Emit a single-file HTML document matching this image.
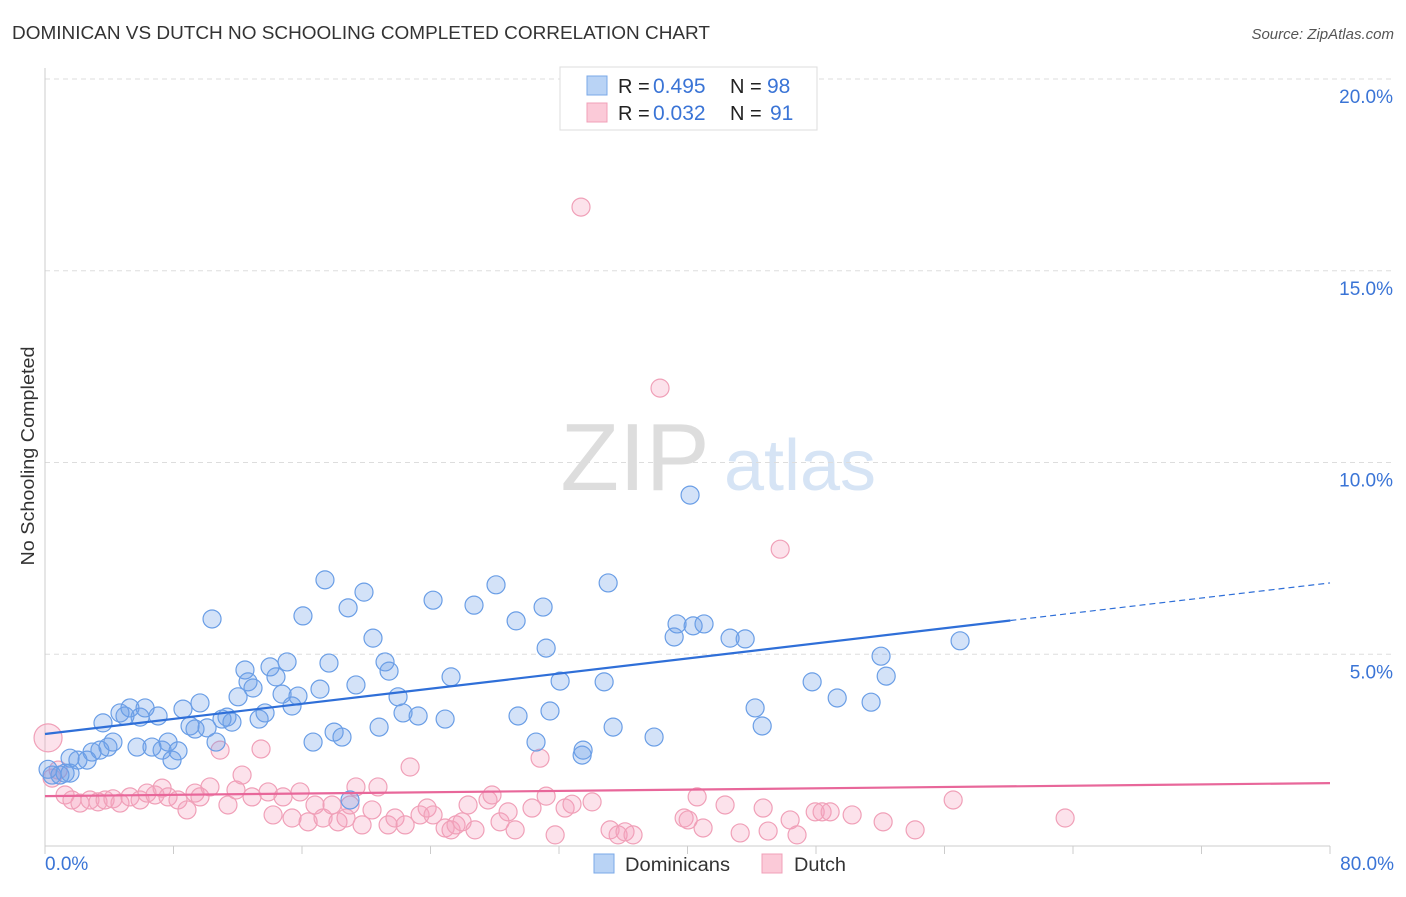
<!DOCTYPE html>
<html><head><meta charset="utf-8"><style>
body{margin:0;background:#fff;font-family:"Liberation Sans",sans-serif;}
svg text{font-family:"Liberation Sans",sans-serif;}
</style></head><body>
<svg id="chart" width="1406" height="892">
<text x="12" y="39" font-size="18" fill="#333" textLength="698" lengthAdjust="spacingAndGlyphs">DOMINICAN VS DUTCH NO SCHOOLING COMPLETED CORRELATION CHART</text>
<text x="1394" y="39" font-size="15" fill="#555" font-style="italic" text-anchor="end">Source: ZipAtlas.com</text>
<text x="34" y="456" font-size="18" fill="#333" text-anchor="middle" textLength="219" lengthAdjust="spacingAndGlyphs" transform="rotate(-90 34 456)">No Schooling Completed</text>
<g><text x="635" y="490" font-size="96" fill="#ddd" font-family="Liberation Serif" text-anchor="middle">ZIP</text><text x="800" y="490" font-size="72" fill="#d6e4f5" text-anchor="middle">atlas</text></g>
<g id="grid"></g><g id="marks"></g>
<g>
<rect x="560" y="67" width="257" height="63" fill="#fff" stroke="#ddd"/>
<rect x="587" y="76" width="20" height="19" fill="#b9d3f5" stroke="#7aa8e8"/>
<rect x="587" y="103" width="20" height="19" fill="#fbcad8" stroke="#f0a0b8"/>
<text x="618" y="93" font-size="20" fill="#222">R =</text>
<text x="653" y="93" font-size="21" fill="#3a74d6">0.495</text>
<text x="730" y="93" font-size="20" fill="#222">N =</text>
<text x="767" y="93" font-size="21" fill="#3a74d6">98</text>
<text x="618" y="120" font-size="20" fill="#222">R =</text>
<text x="653" y="120" font-size="21" fill="#3a74d6">0.032</text>
<text x="730" y="120" font-size="20" fill="#222">N =</text>
<text x="770" y="120" font-size="21" fill="#3a74d6">91</text>
</g>
<g>
<rect x="594" y="854" width="20" height="19" fill="#b9d3f5" stroke="#7aa8e8"/>
<text x="625" y="871" font-size="19" fill="#333" textLength="105" lengthAdjust="spacingAndGlyphs">Dominicans</text>
<rect x="762" y="854" width="20" height="19" fill="#fbcad8" stroke="#f0a0b8"/>
<text x="794" y="871" font-size="19" fill="#333" textLength="52" lengthAdjust="spacingAndGlyphs">Dutch</text>
</g>
</svg>
<script>
const yTicks=[5,10,15,20];
const yTickLabels=["5.0%","10.0%","15.0%","20.0%"];
const xTickLabels=["0.0%","80.0%"];
const blueX=[0.44,0.93,1.25,1.56,2.05,2.62,2.93,3.42,3.61,3.92,4.23,4.67,4.98,5.29,5.73,5.92,6.23,6.66,7.04,7.29,7.66,7.91,8.28,8.59,9.03,9.34,9.65,10.09,10.40,10.65,11.02,11.33,11.64,12.02,12.45,12.64,12.95,13.33,13.70,14.01,14.38,14.76,15.07,15.38,15.75,16.06,16.69,17.12,17.43,17.68,18.0,18.49,18.87,18.99,19.36,19.86,20.42,20.80,21.17,21.42,21.98,22.29,23.23,24.16,24.91,25.28,26.71,28.08,29.33,29.45,30.57,31.01,31.20,31.44,32.07,33.44,33.50,34.81,35.06,35.37,37.92,39.17,39.35,40.16,40.35,41.03,42.65,43.59,44.21,44.65,47.76,49.32,51.43,52.05,52.37,56.97,0.19,1.56];
const blueY=[1.85,1.85,1.90,2.29,2.24,2.24,2.45,2.50,3.21,2.58,2.71,3.47,3.39,3.60,2.58,3.36,3.60,2.58,3.39,2.50,2.71,2.24,2.48,3.57,3.13,3.05,3.73,3.08,5.92,2.71,3.31,3.36,3.23,3.89,4.59,4.28,4.12,3.31,3.47,4.67,4.41,3.96,4.80,3.65,3.91,6.0,2.71,4.09,6.94,4.77,2.97,2.84,6.21,1.20,4.20,6.62,5.42,3.10,4.80,4.56,3.89,3.47,3.39,6.41,3.31,4.41,6.28,6.81,5.87,3.39,2.71,6.23,5.16,3.52,4.30,2.37,2.50,4.28,6.86,3.10,2.84,5.45,5.79,9.15,5.74,5.79,5.42,5.40,3.60,3.13,4.28,3.86,3.75,4.95,4.43,5.35,2.0,1.9];
const pinkX=[0.19,0.44,0.82,1.25,1.68,2.18,2.80,3.30,3.74,4.23,4.67,5.29,5.92,6.35,6.85,7.29,7.66,8.28,8.84,9.34,9.65,10.27,10.90,11.39,11.89,12.27,12.89,13.45,13.89,14.20,14.82,15.38,15.88,16.38,16.81,17.31,17.87,18.24,18.74,18.99,19.36,19.74,20.36,20.73,21.36,21.79,22.42,22.73,23.35,23.79,24.16,24.91,25.28,25.59,25.97,26.34,26.77,27.58,27.83,28.33,28.83,29.27,30.32,30.82,31.20,31.76,32.38,32.81,33.37,34.06,35.18,35.68,36.11,36.61,38.29,39.79,40.04,40.60,40.97,42.34,43.28,44.71,45.02,45.77,46.39,46.82,47.95,48.38,48.88,50.25,52.18,54.17,56.54,63.51];
const pinkY=[2.82,1.77,1.98,1.33,1.20,1.12,1.20,1.15,1.20,1.23,1.12,1.28,1.20,1.38,1.33,1.51,1.28,1.20,0.94,1.38,1.28,1.54,2.50,1.07,1.46,1.85,1.28,2.53,1.41,0.81,1.28,0.73,1.41,0.63,1.07,0.73,1.07,0.63,0.73,1.07,1.54,0.55,0.94,1.54,0.55,0.73,0.55,2.06,0.81,0.99,0.81,0.47,0.42,0.55,0.63,1.07,0.42,1.20,1.33,0.63,0.89,0.42,0.99,2.29,1.30,0.29,0.99,1.09,16.66,1.15,0.42,0.29,0.37,0.29,11.94,0.73,0.68,1.28,0.47,1.07,0.34,0.99,0.39,7.74,0.68,0.29,0.89,0.89,0.89,0.81,0.63,0.42,1.20,0.73];
const blueLine=[2.92,6.86], pinkLine=[1.30,1.64];
const X0=45,X1=1330,Y0=846,Y1=79;
const sx=v=>X0+(v/80)*(X1-X0), sy=v=>Y0-(v/20)*(Y0-Y1);
const NS="http://www.w3.org/2000/svg";
function mk(t,a,p){const e=document.createElementNS(NS,t);for(const k in a)e.setAttribute(k,a[k]);p.appendChild(e);return e;}
const grid=document.getElementById('grid'),marks=document.getElementById('marks');
yTicks.forEach((t,i)=>{
 const l=mk('line',{x1:X0,x2:1394,y1:sy(t),y2:sy(t),stroke:'#ddd','stroke-dasharray':'5,4'},grid);
 
 
 const tx=mk('text',{x:1393,y:sy(t)+24,'font-size':19,fill:'#3a74d6','text-anchor':'end'},grid);
 tx.textContent=yTickLabels[i];
 
 
});
const ax=mk('line',{x1:X0,x2:X0,y1:68,y2:Y0,stroke:'#ccc'},grid);


const bx=mk('line',{x1:X0,x2:X1,y1:Y0,y2:Y0,stroke:'#ccc'},grid);


for(let i=0;i<=10;i++){const t=mk('line',{x1:sx(i*8),x2:sx(i*8),y1:Y0,y2:Y0+8,stroke:'#ccc'},grid);
 
 }
[[0,'start',45],[80,'end',1394]].forEach((d,i)=>{const t=mk('text',{x:d[2],y:870,'font-size':19,fill:'#3a74d6','text-anchor':d[1]},grid);t.textContent=xTickLabels[i];
 
 });
function dots(xs,ys,fill,stroke,name){xs.forEach((x,i)=>{const big=(i===0&&name==='dutch-point')?14:9;
 const c=mk('circle',{cx:sx(x),cy:sy(ys[i]),r:big,fill:fill,stroke:stroke,'stroke-width':1.2},marks);
 
 });}
dots(pinkX,pinkY,'rgba(246,160,188,0.3)','#f0a0b8','dutch-point');
dots(blueX,blueY,'rgba(110,160,232,0.3)','#6a9ee6','dominican-point');
const xe=60.1;
const bl=mk('line',{x1:sx(0),y1:sy(blueLine[0]),x2:sx(xe),y2:sy(blueLine[0]+(blueLine[1]-blueLine[0])*xe/80),stroke:'#2f6fd8','stroke-width':2.2},marks);


const bd=mk('line',{x1:sx(xe),y1:sy(blueLine[0]+(blueLine[1]-blueLine[0])*xe/80),x2:sx(80),y2:sy(blueLine[1]),stroke:'#2f6fd8','stroke-width':1.2,'stroke-dasharray':'6,4'},marks);


const pl=mk('line',{x1:sx(0),y1:sy(pinkLine[0]),x2:sx(80),y2:sy(pinkLine[1]),stroke:'#e8679a','stroke-width':2.2},marks);


</script>
</body></html>
